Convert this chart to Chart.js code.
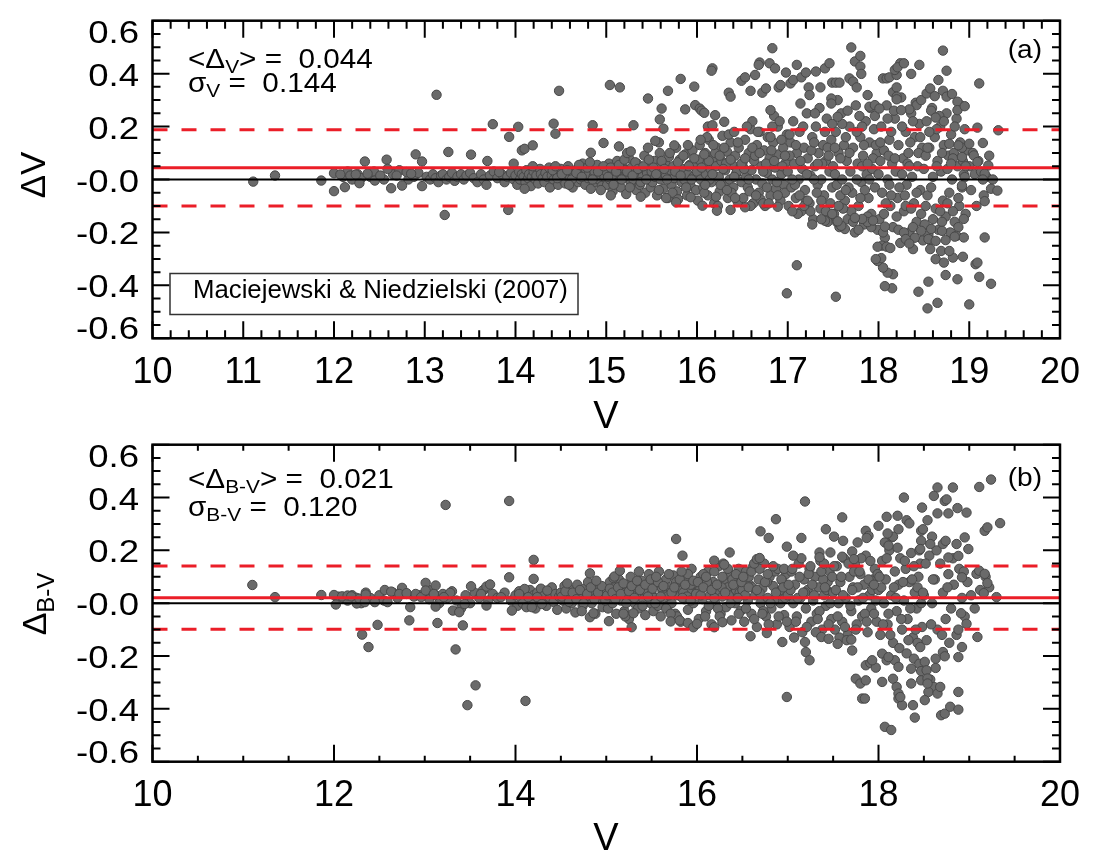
<!DOCTYPE html>
<html>
<head>
<meta charset="utf-8">
<script src="https://cdn.jsdelivr.net/npm/chart.js@4.4.0/dist/chart.umd.min.js"></script>
<style>
  body { margin: 0; background: #fff; }
  #wrap { position: relative; width: 1100px; height: 867px; overflow: hidden; }
  #wrap canvas { position: absolute; left: 0; }
</style>
</head>
<body>
<div id="wrap">
  <canvas id="chartA" width="1100" height="440" style="top:0px"></canvas>
  <canvas id="chartB" width="1100" height="447" style="top:420px"></canvas>
</div>
<script>
// Fuente tipo Helvetica
const FONT = '"Liberation Sans", Arial, Helvetica, sans-serif';

// Estadísticas de cada panel
const meanA = 0.044, sigmaA = 0.144;
const meanB = 0.021, sigmaB = 0.120;

// Marcas de los ejes
const xTicksA = [10, 11, 12, 13, 14, 15, 16, 17, 18, 19, 20];
const xTicksB = [10, 12, 14, 16, 18, 20];
const yTicks = [-0.6, -0.4, -0.2, 0.0, 0.2, 0.4, 0.6];

// Panel (a): ΔV frente a V, núcleo denso
const panelA_core = [
  [12.1,0.01],[12.15,0.03],[12.2,0.0],[12.26,0.02],[12.3,0.005],[12.4,0.01],[12.44,0.03],[12.55,0.0],[12.65,0.02],[12.72,0.035],[12.82,0.0],[12.88,0.01],[12.93,0.025],
  [13.02,0.01],[13.06,0.0],[13.09,0.02],[13.12,0.005],[13.15,-0.01],[13.18,0.015],[13.2,0.02],[13.24,0.0],[13.27,0.01],[13.3,0.025],[13.33,-0.005],[13.36,0.01],[13.4,0.02],[13.43,0.0],[13.46,0.015],[13.5,0.025],[13.54,0.005],[13.58,-0.01],[13.62,0.02],[13.65,0.0],[13.68,-0.02],[13.72,0.015],[13.76,0.03],[13.8,0.005],[13.85,0.02],[13.88,-0.01],[13.91,0.01],[13.95,0.025],[13.98,0.0],
  [14.0,0.015],[14.02,-0.02],[14.04,0.03],[14.05,0.0],[14.07,0.02],[14.09,0.01],[14.11,-0.01],[14.12,0.035],[14.14,0.005],[14.15,0.02],[14.17,-0.025],[14.18,0.01],[14.2,0.03],[14.22,0.0],[14.23,0.015],[14.25,-0.015],[14.27,0.04],[14.28,0.02],[14.3,0.005],[14.32,-0.01],[14.33,0.025],[14.35,0.01],[14.37,0.045],[14.38,-0.03],[14.4,0.015],[14.42,0.0],[14.43,0.03],[14.45,0.02],[14.47,-0.02],[14.48,0.01],[14.5,0.04],
  [14.52,0.0],[14.53,0.025],[14.55,-0.015],[14.56,0.015],[14.58,0.05],[14.6,0.005],[14.61,0.03],[14.63,-0.03],[14.64,0.02],[14.66,0.01],[14.68,0.04],[14.69,-0.01],[14.71,0.025],[14.72,0.0],[14.74,0.06],[14.75,0.015],[14.77,-0.02],[14.78,0.035],[14.8,0.005],[14.81,0.02],[14.83,-0.035],[14.84,0.045],[14.86,0.01],[14.87,0.03],[14.89,-0.01],[14.9,0.055],[14.92,0.0],[14.93,0.02],[14.95,-0.025],[14.96,0.04],[14.98,0.01],
  [15.0,0.03],[15.01,-0.02],[15.03,0.06],[15.04,0.0],[15.06,0.02],[15.07,-0.045],[15.09,0.04],[15.1,0.01],[15.12,0.07],[15.13,-0.01],[15.15,0.025],[15.16,-0.03],[15.18,0.05],[15.19,0.005],[15.21,0.035],[15.22,-0.055],[15.24,0.015],[15.25,0.08],[15.27,-0.015],[15.28,0.045],[15.3,0.0],[15.31,0.03],[15.33,-0.04],[15.34,0.06],[15.36,0.02],[15.37,-0.02],[15.39,0.04],[15.4,0.01],[15.42,0.09],[15.43,-0.05],[15.45,0.025],[15.46,0.0],[15.48,0.055],[15.49,-0.03],
  [15.5,0.03],[15.51,-0.01],[15.53,0.07],[15.54,0.01],[15.56,-0.06],[15.57,0.045],[15.59,0.1],[15.6,0.0],[15.62,0.025],[15.63,-0.035],[15.65,0.06],[15.66,0.015],[15.68,-0.07],[15.69,0.085],[15.71,0.035],[15.72,-0.02],[15.74,0.05],[15.75,0.005],[15.77,0.12],[15.78,-0.045],[15.8,0.03],[15.81,0.075],[15.83,-0.01],[15.84,0.04],[15.86,0.0],[15.87,0.095],[15.89,-0.06],[15.9,0.02],[15.92,0.055],[15.93,-0.025],[15.95,0.11],[15.96,0.01],[15.98,0.065],[15.99,-0.04],
  [16.0,0.03],[16.01,-0.08],[16.03,0.13],[16.04,0.0],[16.06,0.06],[16.07,-0.03],[16.09,0.1],[16.1,0.02],[16.12,-0.06],[16.13,0.15],[16.15,0.04],[16.16,-0.01],[16.18,0.08],[16.19,-0.09],[16.21,0.05],[16.22,0.12],[16.24,0.01],[16.25,-0.045],[16.27,0.07],[16.28,0.165],[16.3,-0.02],[16.31,0.035],[16.33,0.105],[16.34,-0.07],[16.36,0.0],[16.37,0.14],[16.39,0.055],[16.4,-0.03],[16.42,0.09],[16.43,0.02],[16.45,-0.085],[16.46,0.12],[16.48,0.045],[16.49,-0.01],
  [16.02,0.075],[16.08,-0.05],[16.14,0.0],[16.2,0.1],[16.26,-0.02],[16.32,0.06],[16.38,-0.05],[16.44,0.03],[16.11,0.16],[16.35,0.17],
  [16.5,0.06],[16.51,-0.07],[16.53,0.15],[16.54,0.01],[16.56,-0.03],[16.57,0.1],[16.59,0.19],[16.6,0.035],[16.62,-0.09],[16.63,0.07],[16.65,0.0],[16.66,0.13],[16.68,-0.05],[16.69,0.18],[16.71,0.05],[16.72,-0.015],[16.74,0.11],[16.75,-0.1],[16.77,0.025],[16.78,0.16],[16.8,0.08],[16.81,-0.06],[16.83,0.0],[16.84,0.14],[16.86,0.045],[16.87,-0.035],[16.89,0.2],[16.9,0.095],[16.92,-0.08],[16.93,0.02],[16.95,0.12],[16.96,-0.02],[16.98,0.065],[16.99,0.17],
  [16.52,0.04],[16.58,-0.045],[16.64,0.09],[16.7,-0.075],[16.76,0.06],[16.82,0.11],[16.88,-0.01],[16.94,0.05],[16.61,0.22],[16.85,0.24],[16.73,-0.09],[16.97,-0.05],
  [17.0,0.03],[17.01,-0.1],[17.03,0.14],[17.04,-0.03],[17.06,0.22],[17.07,0.06],[17.09,-0.07],[17.1,0.1],[17.12,0.0],[17.13,0.18],[17.15,-0.12],[17.16,0.04],[17.18,0.12],[17.19,-0.04],[17.21,0.25],[17.22,0.08],[17.24,-0.09],[17.25,0.015],[17.27,0.16],[17.28,-0.15],[17.3,0.05],[17.31,0.2],[17.33,-0.02],[17.34,0.1],[17.36,-0.11],[17.37,0.0],[17.39,0.13],[17.4,-0.06],[17.42,0.07],[17.43,0.23],[17.45,-0.14],[17.46,0.03],[17.48,0.15],[17.49,-0.03],
  [17.02,0.09],[17.08,-0.02],[17.14,0.07],[17.2,-0.08],[17.26,0.11],[17.32,-0.05],[17.38,0.06],[17.44,0.12],[17.11,-0.13],[17.35,0.27],[17.47,-0.09],[17.29,0.0],
  [17.5,0.05],[17.51,-0.13],[17.53,0.18],[17.54,-0.02],[17.56,0.1],[17.57,-0.18],[17.59,0.25],[17.6,0.0],[17.62,0.13],[17.63,-0.08],[17.65,0.07],[17.66,-0.15],[17.68,0.2],[17.69,0.03],[17.71,-0.05],[17.72,0.12],[17.74,-0.2],[17.75,0.28],[17.77,0.06],[17.78,-0.1],[17.8,0.16],[17.81,-0.01],[17.83,0.09],[17.84,-0.17],[17.86,0.22],[17.87,0.02],[17.89,-0.07],[17.9,0.14],[17.92,-0.13],[17.93,0.04],[17.95,0.19],[17.96,-0.03],[17.98,0.1],[17.99,-0.19],
  [17.52,0.02],[17.58,-0.06],[17.64,0.16],[17.7,-0.12],[17.76,0.0],[17.82,0.05],[17.88,-0.14],[17.94,0.08],[17.55,0.3],[17.79,0.24],[17.67,-0.03],[17.91,0.27],[17.61,-0.11],[17.85,-0.04],[17.97,0.13],
  [18.0,0.02],[18.01,-0.15],[18.03,0.2],[18.04,-0.05],[18.06,0.11],[18.07,-0.22],[18.09,0.28],[18.1,0.0],[18.12,0.15],[18.13,-0.1],[18.15,0.06],[18.16,-0.18],[18.18,0.23],[18.19,0.03],[18.21,-0.07],[18.22,0.13],[18.24,-0.24],[18.25,0.31],[18.27,0.08],[18.28,-0.12],[18.3,0.18],[18.31,-0.02],[18.33,0.1],[18.34,-0.2],[18.36,0.25],[18.37,0.01],[18.39,-0.09],[18.4,0.16],[18.42,-0.16],[18.43,0.05],[18.45,0.21],[18.46,-0.04],[18.48,0.12],[18.49,-0.23],
  [18.02,0.07],[18.08,-0.09],[18.14,0.18],[18.2,-0.14],[18.26,0.02],[18.32,0.06],[18.38,-0.18],[18.44,0.1],[18.05,-0.2],[18.17,0.26],[18.29,-0.06],[18.41,0.29],[18.11,0.09],[18.23,-0.03],[18.35,0.14],[18.47,-0.13],
  [18.5,0.04],[18.51,-0.17],[18.53,0.22],[18.54,-0.06],[18.56,0.12],[18.57,-0.23],[18.59,0.27],[18.6,0.01],[18.62,0.16],[18.63,-0.11],[18.65,0.07],[18.66,-0.19],[18.68,0.2],[18.69,0.03],[18.71,-0.08],[18.72,0.13],[18.74,-0.14],[18.75,0.25],[18.77,0.09],[18.78,-0.05],[18.8,0.17],[18.81,0.0],[18.83,0.1],[18.84,-0.16],[18.86,0.23],[18.87,0.05],[18.89,-0.1],[18.9,0.14],[18.92,-0.03],[18.93,0.07],[18.95,0.19],[18.96,-0.13],[18.98,0.11],
  [18.52,0.09],[18.58,-0.03],[18.64,0.19],[18.7,-0.16],[18.76,0.04],[18.82,0.08],[18.88,-0.07],[18.94,0.02],[18.55,-0.21],[18.67,0.24],[18.79,-0.2],[18.91,0.28],
  [19.0,0.05],[19.02,-0.04],[19.04,0.1],[19.06,0.02],[19.08,-0.1],[19.1,0.07],[19.13,0.03],[19.16,-0.06],[19.19,0.01],[19.22,0.09],[19.26,0.0]
];

// Panel (a): capa adicional dentro de la banda central
const panelA_dense = [
  [14.41,0.035],[14.46,0.005],[14.51,0.02],[14.57,0.035],[14.62,0.0],[14.67,0.025],[14.73,0.01],[14.79,0.045],[14.85,0.0],[14.91,0.03],[14.97,0.05],[14.44,0.05],[14.59,-0.02],[14.7,0.055],[14.82,0.065],[14.94,-0.04],
  [15.02,0.01],[15.05,0.045],[15.08,-0.02],[15.11,0.03],[15.14,0.055],[15.17,0.0],[15.2,0.075],[15.23,0.03],[15.26,-0.03],[15.29,0.015],[15.32,0.065],[15.35,0.04],[15.38,-0.01],[15.41,0.05],[15.44,0.0],[15.47,0.075],[15.05,-0.06],[15.23,0.1],[15.38,-0.065],[15.46,0.12],
  [15.52,0.045],[15.55,0.02],[15.58,-0.04],[15.61,0.07],[15.64,0.04],[15.67,0.0],[15.7,0.1],[15.73,-0.05],[15.76,0.03],[15.79,0.065],[15.82,0.015],[15.85,0.09],[15.88,-0.03],[15.91,0.05],[15.94,0.0],[15.97,0.08],[15.58,0.14],[15.79,-0.075],[15.9,0.13],[15.66,-0.07],
  [16.05,0.045],[16.09,-0.02],[16.13,0.07],[16.17,0.02],[16.21,-0.065],[16.25,0.09],[16.29,0.04],[16.33,-0.04],[16.37,0.075],[16.41,0.01],[16.45,0.14],[16.49,0.06],[16.04,0.15],[16.18,0.13],[16.3,0.12],[16.42,-0.07],[16.23,-0.1],[16.12,0.2],
  [16.53,0.08],[16.57,0.0],[16.61,0.12],[16.65,-0.06],[16.69,0.1],[16.73,0.03],[16.77,-0.03],[16.81,0.16],[16.85,0.07],[16.89,-0.06],[16.93,0.15],[16.97,0.09],[16.55,0.2],[16.67,0.18],[16.79,-0.09],[16.91,0.22],[16.59,-0.1],[16.83,0.2],
  [17.02,0.17],[17.05,0.0],[17.09,0.13],[17.13,-0.06],[17.17,0.2],[17.21,0.02],[17.25,-0.12],[17.29,0.14],[17.33,0.06],[17.37,-0.08],[17.41,0.18],[17.45,0.09],[17.49,0.21],[17.05,-0.12],[17.18,-0.1],[17.3,0.25],[17.42,-0.12],[17.27,-0.17],[17.44,-0.16],
  [17.52,0.12],[17.56,-0.1],[17.6,0.21],[17.64,-0.04],[17.68,0.1],[17.72,-0.16],[17.76,0.18],[17.8,-0.07],[17.84,0.13],[17.88,0.06],[17.92,-0.18],[17.96,0.24],[17.54,-0.16],[17.66,0.26],[17.78,-0.19],[17.9,0.0],[17.58,0.08],[17.82,0.2],
  [18.02,0.14],[18.06,-0.13],[18.1,0.23],[18.14,-0.06],[18.18,0.08],[18.22,-0.19],[18.26,0.2],[18.3,-0.1],[18.34,0.05],[18.38,0.22],[18.42,-0.05],[18.46,0.16],[18.04,-0.25],[18.16,0.33],[18.28,-0.2],[18.4,-0.22],[18.12,-0.02],[18.36,-0.11],
  [18.52,-0.1],[18.56,0.18],[18.6,-0.15],[18.64,0.05],[18.68,-0.12],[18.72,0.22],[18.76,-0.09],[18.8,0.06],[18.84,0.2],[18.88,-0.18],[18.92,0.12],[18.96,0.05],[18.58,0.26],[18.7,0.1],[18.82,-0.12],[18.54,0.12]
];

// Panel (a): puntos dispersos y valores atípicos
const panelA_spread = [
  [11.11,-0.008],[11.35,0.015],[11.86,-0.004],[12.0,-0.044],[12.0,0.024],[12.07,0.019],[12.12,-0.029],[12.18,0.015],[12.24,0.019],[12.28,-0.014],[12.34,0.068],[12.37,0.022],[12.45,-0.004],[12.51,0.015],[12.58,0.075],[12.59,0.04],[12.63,-0.033],[12.69,0.015],[12.75,-0.023],[12.8,0.028],[12.85,0.022],[12.9,0.095],[12.97,0.068],[12.97,-0.025],
  [13.13,0.32],[13.22,-0.134],[13.26,0.104],[13.51,0.094],[13.69,0.07],[13.75,0.209],[13.82,0.028],[13.92,-0.115],[13.93,0.161],[13.98,0.06],[14.03,0.199],[14.07,0.11],[14.1,0.116],[14.1,-0.035],[14.19,0.129],[14.19,0.05],
  [14.48,0.335],[14.42,0.211],[14.44,0.173],[15.04,0.357],[15.15,0.348],[14.85,0.205],[14.97,0.138],[15.14,0.125],[14.83,0.101],[15.27,0.106],[15.3,0.205],[15.46,0.306],[15.54,0.146],[15.61,0.268],[15.59,0.227],[15.63,0.192],[15.68,0.335],[15.75,0.129],[15.82,0.38],[15.87,0.265],[15.97,0.351],[15.98,0.281],[16.03,0.268],[16.05,0.26],[16.08,0.252],[16.17,0.42],[16.16,0.411],[16.2,0.243],[16.17,0.205],[16.08,0.095],[16.3,0.218],[16.35,0.328],[16.37,0.313],[16.41,0.18],[16.49,0.373],[16.53,0.386],[16.59,0.335],[16.64,0.395],[16.69,0.442],[16.68,0.433],[16.72,0.328],[16.76,0.344],[16.8,0.439],[16.83,0.496],[16.86,0.42],[16.81,0.262],[16.9,0.348],[16.92,0.357],[16.98,0.404],
  [17.03,0.363],[17.06,0.376],[17.1,0.433],[17.14,0.287],[17.15,0.386],[17.2,0.404],[17.23,0.348],[17.24,0.319],[17.31,0.408],[17.36,0.348],[17.41,0.42],[17.46,0.439],[17.49,0.366],[17.53,0.366],[17.57,0.366],[17.48,0.306],[17.48,0.287],[17.55,0.237],[17.7,0.499],[17.74,0.446],[17.8,0.467],[17.68,0.382],[17.72,0.37],[17.8,0.427],[17.81,0.399],[17.76,0.348],[17.88,0.319],[17.9,0.275],[17.96,0.281],[18.01,0.268],
  [18.05,0.382],[18.09,0.382],[18.12,0.386],[18.2,0.395],[18.18,0.414],[18.24,0.439],[18.21,0.424],[18.2,0.348],[18.2,0.313],[18.2,0.303],[18.28,0.439],[18.36,0.399],[18.45,0.433],[18.42,0.281],[18.34,0.265],[18.25,0.262],[18.47,0.3],[18.53,0.325],[18.57,0.344],[18.62,0.315],[18.66,0.376],[18.71,0.335],[18.75,0.313],[18.81,0.323],[18.71,0.487],[18.75,0.411],[18.63,0.234],[18.87,0.294],[18.87,0.262],[18.95,0.277],
  [19.11,0.363],[19.09,0.196],[19.32,0.186],[19.0,0.135],[19.15,0.138],[18.88,0.129],[18.78,0.135],[18.92,0.085],[19.05,0.091],[19.09,0.066],[19.21,0.053],[19.17,0.022],[18.95,0.009],[18.92,-0.023],[19.15,0.0],[19.24,-0.035],[19.31,-0.042],[19.17,-0.082],[18.94,-0.149],[19.17,-0.219],[18.86,-0.213],[18.94,-0.219],[19.07,-0.32],[19.09,-0.314],[19.11,-0.368],[19.24,-0.394],[19.0,-0.472],
  [18.87,-0.377],[18.74,-0.361],[18.65,-0.466],[18.54,-0.487],[18.55,-0.386],[18.44,-0.424],[18.63,-0.301],[18.72,-0.314],[18.82,-0.295],[18.93,-0.292],[18.57,-0.263],[18.69,-0.27],[18.78,-0.27],[18.55,-0.225],[18.63,-0.232],[18.74,-0.229],[18.84,-0.216],[18.38,-0.263],[18.3,-0.225],[18.34,-0.242],[18.47,-0.194],[18.58,-0.187],[18.7,-0.194],
  [18.15,-0.411],[18.07,-0.403],[18.16,-0.358],[18.1,-0.352],[18.05,-0.333],[17.99,-0.308],[18.03,-0.297],[17.97,-0.301],[17.99,-0.254],[18.09,-0.254],[18.13,-0.259],[17.53,-0.443],[16.99,-0.43],[17.1,-0.324],[17.63,-0.187],[17.59,-0.175],[17.55,-0.158],[18.07,-0.178],[17.88,-0.161],[17.94,-0.155],[17.82,-0.149],[17.74,-0.145],[17.41,-0.156],[17.37,-0.15],[17.49,-0.13],
  [16.22,-0.118],[16.37,-0.115],[16.53,-0.105],[15.77,-0.086],[16.06,-0.099],[15.93,-0.067],[16.89,-0.103],[17.22,-0.08]
];

// Panel (b): Δ(B-V) frente a V, núcleo denso
const panelB_core = [
  [12.05,0.025],[12.1,0.02],[12.15,0.01],[12.2,0.03],[12.25,0.02],[12.3,0.0],[12.35,0.04],[12.4,0.02],[12.5,0.03],[12.55,0.01],[12.65,0.04],[12.7,0.02],[12.8,0.035],[12.88,0.025],[12.95,0.03],
  [13.02,0.04],[13.05,0.015],[13.08,0.05],[13.12,0.03],[13.16,0.0],[13.2,0.035],[13.25,0.02],[13.3,0.045],[13.35,0.01],[13.4,-0.02],[13.45,0.03],[13.5,0.0],[13.55,0.04],[13.6,0.02],[13.65,0.05],[13.7,0.01],[13.75,0.035],[13.8,0.02],[13.88,0.04],[13.95,0.01],
  [14.0,0.03],[14.02,-0.01],[14.04,0.045],[14.06,0.02],[14.08,0.0],[14.1,0.035],[14.12,-0.015],[14.14,0.025],[14.16,0.05],[14.18,0.01],[14.2,0.03],[14.22,-0.02],[14.24,0.04],[14.26,0.015],[14.28,0.055],[14.3,0.0],[14.32,0.03],[14.34,-0.01],[14.36,0.045],[14.38,0.02],[14.4,0.06],[14.42,0.005],[14.44,0.035],[14.46,-0.025],[14.48,0.025],
  [14.5,0.04],[14.52,0.01],[14.54,0.065],[14.56,-0.02],[14.58,0.03],[14.6,0.05],[14.62,0.0],[14.64,0.025],[14.66,-0.035],[14.68,0.07],[14.7,0.015],[14.72,0.04],[14.74,-0.01],[14.76,0.055],[14.78,0.02],[14.8,0.08],[14.84,0.0],[14.86,0.035],[14.88,-0.04],[14.9,0.06],[14.92,0.02],[14.94,0.045],[14.96,-0.015],[14.98,0.03],
  [15.0,0.05],[15.02,-0.02],[15.04,0.08],[15.05,0.02],[15.07,0.0],[15.09,0.06],[15.11,-0.04],[15.12,0.035],[15.14,0.09],[15.16,0.01],[15.18,0.045],[15.2,-0.03],[15.22,0.07],[15.23,0.02],[15.25,-0.06],[15.27,0.1],[15.29,0.04],[15.31,0.0],[15.33,0.06],[15.35,-0.02],[15.37,0.03],[15.39,0.085],[15.41,0.015],[15.43,-0.045],[15.45,0.05],[15.47,0.11],[15.49,0.0],
  [15.5,0.035],[15.52,-0.03],[15.54,0.07],[15.56,0.01],[15.58,0.12],[15.6,-0.05],[15.62,0.045],[15.64,0.02],[15.66,0.09],[15.68,-0.01],[15.7,0.06],[15.72,0.0],[15.74,0.105],[15.76,-0.04],[15.78,0.03],[15.8,0.075],[15.82,-0.07],[15.84,0.05],[15.86,0.015],[15.88,0.1],[15.9,-0.025],[15.92,0.04],[15.94,0.13],[15.96,0.0],[15.98,0.065],
  [15.53,0.02],[15.61,0.06],[15.69,0.03],[15.77,0.08],[15.85,0.04],[15.93,0.07],[15.57,-0.01],[15.73,0.045],[15.89,0.025],
  [16.0,0.04],[16.02,-0.06],[16.04,0.1],[16.06,0.015],[16.08,0.065],[16.1,-0.03],[16.12,0.12],[16.14,0.03],[16.16,-0.08],[16.18,0.08],[16.2,0.0],[16.22,0.05],[16.24,0.14],[16.26,-0.04],[16.28,0.025],[16.3,0.09],[16.32,-0.015],[16.34,0.06],[16.36,0.11],[16.38,-0.065],[16.4,0.035],[16.42,0.0],[16.44,0.075],[16.46,0.13],[16.48,-0.03],
  [16.03,0.05],[16.11,0.08],[16.19,0.02],[16.27,0.06],[16.35,0.03],[16.43,0.05],[16.07,0.11],[16.23,-0.02],[16.39,0.09],[16.47,0.04],
  [16.5,0.05],[16.52,-0.07],[16.54,0.12],[16.56,0.01],[16.58,0.07],[16.6,-0.04],[16.62,0.14],[16.64,0.03],[16.66,-0.09],[16.68,0.09],[16.7,0.0],[16.72,0.055],[16.74,0.15],[16.76,-0.05],[16.78,0.02],[16.8,0.1],[16.82,-0.02],[16.84,0.065],[16.86,0.12],[16.88,-0.08],[16.9,0.035],[16.92,0.0],[16.94,0.085],[16.96,-0.045],[16.98,0.11],
  [16.53,0.03],[16.61,0.06],[16.69,0.04],[16.77,0.08],[16.85,0.01],[16.93,0.05],[16.57,0.1],[16.73,-0.03],[16.89,0.13],[16.97,0.02],
  [17.0,0.03],[17.02,-0.09],[17.04,0.12],[17.06,0.0],[17.08,0.07],[17.1,-0.05],[17.12,0.15],[17.14,0.02],[17.16,-0.11],[17.18,0.09],[17.2,-0.02],[17.22,0.05],[17.24,0.13],[17.26,-0.07],[17.28,0.01],[17.3,0.1],[17.32,-0.04],[17.34,0.06],[17.36,0.16],[17.38,-0.1],[17.4,0.03],[17.42,-0.01],[17.44,0.08],[17.46,0.12],[17.48,-0.06],
  [17.03,0.05],[17.11,0.02],[17.19,0.04],[17.27,0.07],[17.35,-0.03],[17.43,0.05],[17.07,-0.13],[17.23,0.11],[17.39,0.09],[17.47,0.0],
  [17.5,0.04],[17.52,-0.1],[17.54,0.14],[17.56,0.0],[17.58,0.08],[17.6,-0.07],[17.62,0.17],[17.64,0.02],[17.66,-0.12],[17.68,0.1],[17.7,-0.03],[17.72,0.06],[17.74,0.15],[17.76,-0.08],[17.78,0.01],[17.8,0.11],[17.82,-0.05],[17.84,0.07],[17.86,0.18],[17.88,-0.11],[17.9,0.03],[17.92,-0.02],[17.94,0.09],[17.96,0.13],[17.98,-0.07],
  [17.53,0.05],[17.61,0.03],[17.69,-0.01],[17.77,0.06],[17.85,-0.04],[17.93,0.05],[17.57,-0.13],[17.73,0.12],[17.89,0.09],[17.97,0.01],
  [18.0,0.05],[18.02,-0.12],[18.04,0.16],[18.06,0.0],[18.08,0.09],[18.1,-0.08],[18.12,0.2],[18.14,0.03],[18.16,-0.15],[18.18,0.12],[18.2,-0.03],[18.22,0.07],[18.24,0.17],[18.26,-0.1],[18.28,0.01],[18.3,0.13],[18.32,-0.06],[18.34,0.08],[18.36,0.19],[18.38,-0.13],[18.4,0.04],[18.42,-0.02],[18.44,0.1],[18.46,0.15],[18.48,-0.09],
  [18.03,0.06],[18.11,-0.04],[18.19,0.02],[18.27,0.08],[18.35,-0.02],[18.43,0.06],[18.07,0.23],[18.23,-0.17],[18.39,0.14],[18.47,0.0],
  [18.5,0.03],[18.53,-0.14],[18.56,0.18],[18.59,0.0],[18.62,0.09],[18.65,-0.1],[18.68,0.15],[18.71,0.04],[18.74,-0.06],[18.77,0.11],[18.8,-0.02],[18.83,0.07],[18.86,-0.12],[18.89,0.13],[18.92,0.02],[18.95,-0.05],[18.98,0.08],
  [19.02,0.03],[19.06,-0.02],[19.12,0.05],[19.18,0.1],[19.22,0.06]
];

// Panel (b): capa adicional dentro de la banda central
const panelB_dense = [
  [14.51,0.025],[14.55,0.045],[14.59,0.005],[14.63,0.04],[14.67,0.015],[14.71,0.05],[14.75,0.0],[14.79,0.035],[14.83,0.06],[14.87,0.015],[14.91,0.04],[14.95,0.065],[14.99,0.01],[14.57,0.075],[14.73,-0.03],[14.89,0.085],
  [15.01,0.03],[15.04,0.055],[15.07,0.04],[15.1,0.015],[15.13,0.06],[15.16,0.035],[15.19,0.075],[15.22,0.0],[15.25,0.045],[15.28,0.065],[15.31,0.02],[15.34,0.085],[15.37,0.05],[15.4,-0.01],[15.43,0.07],[15.46,0.025],[15.49,0.09],[15.08,0.095],[15.21,-0.05],[15.36,0.12],
  [15.51,0.055],[15.54,0.0],[15.57,0.08],[15.6,0.025],[15.63,0.065],[15.66,-0.02],[15.69,0.11],[15.72,0.04],[15.75,0.06],[15.78,-0.05],[15.81,0.09],[15.84,0.02],[15.87,0.07],[15.9,0.11],[15.93,0.01],[15.96,0.085],[15.99,0.035],[15.55,0.1],[15.83,0.12],[15.71,-0.04],
  [16.01,0.08],[16.04,0.03],[16.07,0.06],[16.1,0.1],[16.13,-0.01],[16.16,0.05],[16.19,0.12],[16.22,0.07],[16.25,-0.05],[16.28,0.1],[16.31,0.04],[16.34,0.13],[16.37,0.0],[16.4,0.07],[16.43,0.11],[16.46,-0.04],[16.49,0.08],[16.09,-0.05],[16.29,0.15],[16.45,0.02],
  [16.51,0.1],[16.54,-0.02],[16.57,0.06],[16.6,0.12],[16.63,-0.06],[16.66,0.05],[16.69,0.13],[16.72,-0.04],[16.75,0.08],[16.78,0.11],[16.81,0.0],[16.84,0.14],[16.87,0.04],[16.9,-0.05],[16.93,0.09],[16.96,0.13],[16.99,-0.07],[16.63,0.15],[16.79,-0.08],[16.95,0.06],
  [17.01,0.07],[17.05,0.13],[17.09,-0.07],[17.13,0.1],[17.17,0.04],[17.21,-0.09],[17.25,0.14],[17.29,0.03],[17.33,-0.06],[17.37,0.12],[17.41,0.06],[17.45,-0.08],[17.49,0.1],[17.15,0.17],[17.31,-0.11],[17.4,0.15],
  [17.51,0.14],[17.55,-0.05],[17.59,0.1],[17.63,-0.09],[17.67,0.15],[17.71,0.05],[17.75,-0.1],[17.79,0.12],[17.83,0.02],[17.87,-0.07],[17.91,0.16],[17.95,-0.04],[17.99,0.11],[17.65,-0.14],[17.81,0.17],[17.95,0.07],
  [18.01,0.1],[18.05,-0.08],[18.09,0.17],[18.13,-0.12],[18.17,0.06],[18.21,0.21],[18.25,-0.06],[18.29,0.16],[18.33,-0.14],[18.37,0.09],[18.41,-0.1],[18.45,0.2],[18.49,0.04],[18.15,0.25],[18.31,-0.19],[18.43,-0.15],
  [18.52,0.15],[18.58,-0.08],[18.64,0.2],[18.7,-0.12],[18.76,0.06],[18.82,0.17],[18.88,-0.1],[18.94,0.12],[18.6,0.09],[18.78,-0.15]
];

// Panel (b): puntos dispersos y valores atípicos
const panelB_spread = [
  [11.1,0.069],[11.35,0.023],[11.86,0.031],[12.0,0.031],[12.02,-0.005],[12.09,0.026],[12.15,0.029],[12.19,0.026],[12.25,-0.001],[12.28,0.017],[12.35,0.033],[12.34,0.004],[12.31,-0.119],[12.38,-0.166],[12.48,-0.082],[12.45,0.004],[12.56,0.05],[12.63,0.044],[12.59,0.004],[12.75,0.058],[12.72,0.035],[12.8,0.038],[12.84,-0.015],[12.83,-0.065],[12.9,0.035],[12.96,0.023],
  [13.01,0.077],[13.01,0.048],[13.12,0.067],[13.1,0.035],[13.12,-0.013],[13.14,-0.075],[13.23,0.372],[13.28,0.039],[13.21,0.023],[13.31,-0.028],[13.34,-0.175],[13.38,-0.034],[13.42,-0.084],[13.44,-0.003],[13.47,-0.386],[13.56,-0.311],[13.51,0.064],[13.64,0.048],[13.68,0.063],[13.72,0.071],[13.62,0.035],[13.68,-0.009],[13.84,0.023],[13.93,0.098],[13.93,0.387],[13.96,-0.028],
  [14.11,-0.37],[14.2,0.164],[14.2,0.092],[14.1,0.054],[14.04,0.035],[14.14,0.023],[14.18,-0.015],[14.24,0.023],[14.29,-0.003],[14.35,0.048],
  [14.82,0.113],[14.82,-0.053],[14.86,-0.038],[15.03,-0.068],[15.09,0.101],[15.15,0.123],[15.28,-0.091],[15.3,-0.038],[15.19,-0.04],[15.77,0.243],[15.84,0.18],[15.71,-0.069],[15.81,-0.065],[15.9,-0.075],[15.96,-0.091],[16.0,-0.078],
  [16.19,0.161],[16.36,0.192],[16.3,0.146],[16.19,-0.091],[16.28,-0.072],[16.59,-0.125],[16.7,0.272],[16.79,0.247],[16.66,0.167],[16.69,0.171],[16.77,-0.113],[16.87,0.318],[16.94,-0.147],[16.99,0.214],[16.99,-0.355],
  [17.06,0.18],[17.15,0.247],[17.19,0.385],[17.19,-0.147],[17.2,-0.185],[17.24,-0.216],[17.35,0.192],[17.35,0.174],[17.42,0.28],[17.37,-0.128],[17.45,-0.135],[17.55,-0.154],[17.47,0.192],[17.51,0.252],[17.61,0.236],[17.6,0.325],[17.6,0.176],[17.71,0.196],[17.73,0.167],[17.7,-0.138],[17.71,-0.179],[17.75,-0.286],[17.8,-0.304],[17.82,-0.361],[17.85,-0.361],[17.86,-0.292],[17.77,0.23],[17.86,0.274],[17.89,0.255],[17.87,0.247],[17.86,-0.235],[17.91,-0.226],[17.97,-0.244],[17.93,-0.216],
  [18.0,0.293],[18.04,-0.191],[18.09,-0.216],[18.18,-0.216],[18.22,-0.241],[18.11,-0.204],[18.04,-0.298],[18.16,-0.286],[18.2,-0.317],[18.22,-0.342],[18.22,-0.361],[18.26,-0.386],[18.24,-0.355],[18.07,-0.468],[18.14,-0.48],[18.09,0.327],[18.21,0.331],[18.22,0.28],[18.16,0.252],[18.1,0.264],[18.11,0.218],[18.28,0.4],[18.31,0.314],[18.34,0.302],[18.38,-0.386],[18.4,-0.433],[18.36,-0.304],[18.36,-0.248],[18.39,-0.21],[18.45,-0.229],[18.47,-0.257],[18.46,-0.166],
  [18.48,0.362],[18.47,0.274],[18.49,0.28],[18.47,0.236],[18.46,0.205],[18.54,0.314],[18.59,0.252],[18.57,0.224],[18.65,0.438],[18.61,0.406],[18.65,0.34],[18.73,0.387],[18.75,0.393],[18.77,0.34],[18.82,0.438],[18.87,0.36],[18.97,0.343],[18.71,0.224],[18.74,0.236],[18.77,0.173],[18.86,0.224],[18.95,0.249],[18.99,0.205],[18.88,0.179],[18.92,0.098],
  [19.08,0.111],[19.11,0.123],[19.17,0.111],[19.2,0.076],[19.16,0.038],[19.11,0.44],[19.24,0.468],[19.17,0.274],[19.2,0.287],[19.34,0.303],[19.3,0.023],
  [18.51,-0.222],[18.53,-0.254],[18.47,-0.292],[18.57,-0.289],[18.61,-0.317],[18.55,-0.336],[18.51,-0.367],[18.65,-0.342],[18.68,-0.317],[18.63,-0.245],[18.54,-0.285],[18.54,-0.304],[18.69,-0.424],[18.73,-0.418],[18.79,-0.392],[18.88,-0.403],[18.88,-0.336],[18.92,-0.166],[18.88,-0.204],[18.71,-0.185],[18.73,-0.201],[18.63,-0.21],[19.09,-0.128],[18.97,-0.078],[18.91,-0.038]
];

const RED = 'rgb(235,30,40)';

// Texto con subíndices: partes = [texto, tamaño, desplazamiento vertical]; sx = estiramiento horizontal
function richText(ctx, x, y, parts, align, sx) {
  sx = sx || 1;
  let w = 0;
  parts.forEach(function(p) {
    ctx.font = p[1] + 'px ' + FONT;
    w += ctx.measureText(p[0]).width;
  });
  w *= sx;
  const x0 = align === 'right' ? x - w : (align === 'center' ? x - w / 2 : x);
  ctx.save();
  ctx.translate(x0, y);
  ctx.scale(sx, 1);
  let cx = 0;
  parts.forEach(function(p) {
    ctx.font = p[1] + 'px ' + FONT;
    ctx.fillText(p[0], cx, p[2] || 0);
    cx += ctx.measureText(p[0]).width;
  });
  ctx.restore();
}

// Marco estilo IDL con marcas hacia dentro en los cuatro lados, etiquetas del eje y, y textos
function framePlugin(xMajor, xMinor, xMinorLen, drawTexts) {
  return {
    id: 'frame',
    afterDraw(chart) {
      const ctx = chart.ctx, a = chart.chartArea;
      const xs = chart.scales.x, ys = chart.scales.y;
      ctx.save();
      ctx.strokeStyle = '#000';
      ctx.lineWidth = 2;
      ctx.beginPath();
      const nx = Math.round((xs.max - xs.min) / xMinor);
      for (let i = 0; i <= nx; i++) {
        const v = xs.min + i * xMinor;
        const px = xs.getPixelForValue(v);
        const major = Math.abs(v / xMajor - Math.round(v / xMajor)) < 1e-6;
        const len = major ? 17 : xMinorLen;
        ctx.moveTo(px, a.bottom); ctx.lineTo(px, a.bottom - len);
        ctx.moveTo(px, a.top); ctx.lineTo(px, a.top + len);
      }
      const ny = Math.round((ys.max - ys.min) / 0.05);
      for (let j = 0; j <= ny; j++) {
        const v = ys.min + j * 0.05;
        const py = ys.getPixelForValue(v);
        const len = j % 4 === 0 ? 17 : 8;
        ctx.moveTo(a.left, py); ctx.lineTo(a.left + len, py);
        ctx.moveTo(a.right, py); ctx.lineTo(a.right - len, py);
      }
      ctx.stroke();
      ctx.lineWidth = 2.5;
      ctx.strokeRect(a.left, a.top, a.right - a.left, a.bottom - a.top);

      ctx.fillStyle = '#000';
      ctx.textBaseline = 'alphabetic';
      // etiquetas del eje y (las de los extremos quedan dentro del marco, como en IDL)
      yTicks.forEach(function(v) {
        let cy = ys.getPixelForValue(v);
        cy = Math.min(Math.max(cy, a.top + 10.5), a.bottom - 11);
        const label = Math.abs(v) < 1e-9 ? '-0.0' : v.toFixed(1);
        richText(ctx, a.left - 13.5, cy + 12, [[label, 31]], 'right', 1.18);
      });
      drawTexts(ctx, a);
      ctx.restore();
    }
  };
}

function lineDataset(value, color, dash) {
  return {
    type: 'line',
    data: [{x: 10, y: value}, {x: 20, y: value}],
    borderColor: color,
    borderWidth: color === '#000' ? 2 : 3,
    borderDash: dash,
    pointRadius: 0,
    showLine: true,
    fill: false
  };
}

function makeChart(id, cfg) {
  return new Chart(document.getElementById(id), {
    type: 'scatter',
    data: {
      datasets: [
        lineDataset(cfg.mean, RED, []),
        lineDataset(cfg.mean + cfg.sigma, RED, [15, 14]),
        lineDataset(cfg.mean - cfg.sigma, RED, [15, 14]),
        lineDataset(0, '#000', []),
        {
          data: cfg.points.map(function(p) { return {x: p[0], y: p[1]}; }),
          pointRadius: 4.7,
          pointBackgroundColor: 'rgb(106,106,106)',
          pointBorderColor: 'rgb(72,72,72)',
          pointBorderWidth: 1
        }
      ]
    },
    options: {
      responsive: false,
      animation: false,
      events: [],
      layout: { padding: { left: 0, right: 40, top: cfg.padTop, bottom: 0 } },
      plugins: { legend: { display: false }, tooltip: { enabled: false } },
      scales: {
        x: {
          type: 'linear', min: 10, max: 20,
          afterBuildTicks: function(s) { s.ticks = cfg.xTicks.map(function(v) { return {value: v}; }); },
          afterFit: function(s) { s.height = cfg.xHeight; },
          grid: { display: false, drawTicks: false },
          border: { display: false },
          ticks: { autoSkip: false, maxRotation: 0, padding: 13, color: '#000',
                   font: { family: FONT, size: 36 },
                   callback: function(v) { return String(v); } }
        },
        y: {
          type: 'linear', min: -0.6, max: 0.6,
          afterBuildTicks: function(s) { s.ticks = yTicks.map(function(v) { return {value: v}; }); },
          afterFit: function(s) { s.width = 152.5; },
          grid: { display: false, drawTicks: false },
          border: { display: false },
          ticks: { display: false }
        }
      }
    },
    plugins: [framePlugin(cfg.xMajor, cfg.xMinor, cfg.xMinorLen, cfg.texts)]
  });
}

// Panel (a)
makeChart('chartA', {
  mean: meanA, sigma: sigmaA,
  points: panelA_core.concat(panelA_dense, panelA_spread),
  xTicks: xTicksA, xMajor: 1, xMinor: 0.2, xMinorLen: 8,
  padTop: 20.7, xHeight: 440 - 338.3,
  texts: function(ctx, a) {
    richText(ctx, 188, 68, [['<Δ', 27], ['V', 19, 5], ['> =  0.044', 27]], 'left', 1.1);
    richText(ctx, 188, 92, [['σ', 27], ['V', 19, 5], [' =  0.144', 27]], 'left', 1.1);
    richText(ctx, 1042, 57.5, [['(a)', 26]], 'right', 1.08);
    // recuadro de la referencia
    ctx.strokeStyle = '#333';
    ctx.lineWidth = 1.5;
    ctx.strokeRect(170, 273.5, 408, 41);
    richText(ctx, 193, 298, [['Maciejewski & Niedzielski (2007)', 25]], 'left', 1.03);
    // títulos de los ejes
    richText(ctx, 606, 428, [['V', 38]], 'center');
    ctx.save();
    ctx.translate(45, 175);
    ctx.rotate(-Math.PI / 2);
    richText(ctx, 0, 0, [['ΔV', 35]], 'center');
    ctx.restore();
  }
});

// Panel (b)
makeChart('chartB', {
  mean: meanB, sigma: sigmaB,
  points: panelB_core.concat(panelB_dense, panelB_spread),
  xTicks: xTicksB, xMajor: 2, xMinor: 0.5, xMinorLen: 6,
  padTop: 24.7, xHeight: 447 - 341.7,
  texts: function(ctx, a) {
    richText(ctx, 188, 488 - 420, [['<Δ', 27], ['B-V', 19, 5], ['> =  0.021', 27]], 'left', 1.1);
    richText(ctx, 188, 516 - 420, [['σ', 27], ['B-V', 19, 5], [' =  0.120', 27]], 'left', 1.1);
    richText(ctx, 1042, 486 - 420, [['(b)', 26]], 'right', 1.08);
    richText(ctx, 606, 850 - 420, [['V', 38]], 'center');
    ctx.save();
    ctx.translate(46, 604 - 420);
    ctx.rotate(-Math.PI / 2);
    richText(ctx, 0, 0, [['Δ', 34], ['B-V', 24, 8]], 'center');
    ctx.restore();
  }
});
</script>
</body>
</html>
